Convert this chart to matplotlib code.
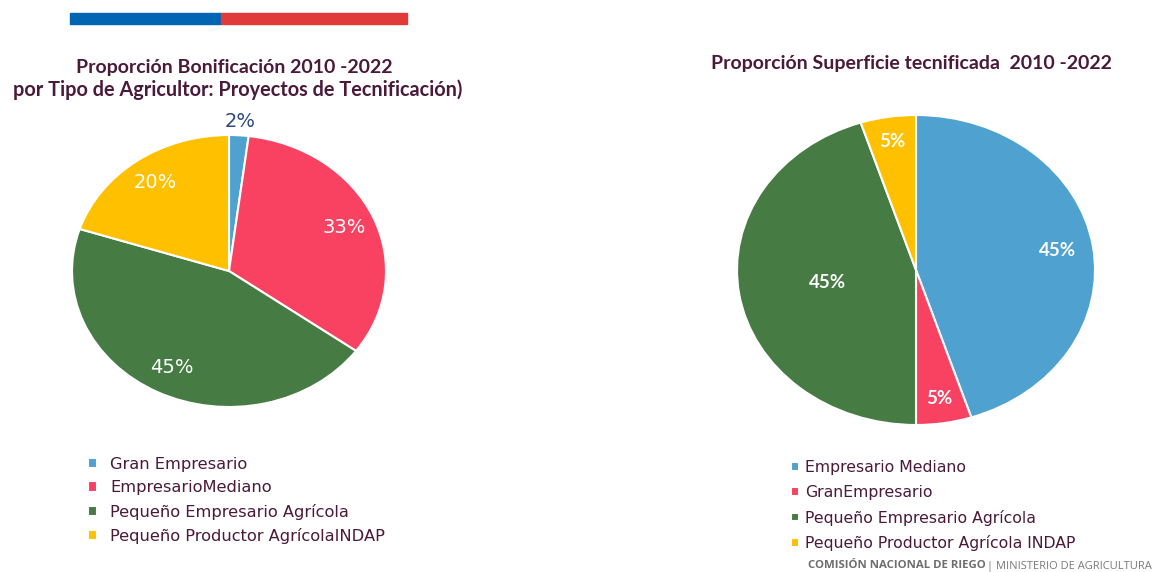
import matplotlib.pyplot as plt
from matplotlib.patches import Rectangle

# data
left_labels = ['Gran Empresario', 'EmpresarioMediano',
               'Pequeño Empresario Agrícola', 'Pequeño Productor AgrícolaINDAP']
left_values = [2, 33, 45, 20]
right_labels = ['Empresario Mediano', 'GranEmpresario',
                'Pequeño Empresario Agrícola', 'Pequeño Productor Agrícola INDAP']
right_values = [45, 5, 45, 5]

left_colors = ['#4FA1D0', '#F94161', '#467C44', '#FFC000']
right_colors = ['#4FA1D0', '#F94161', '#467C44', '#FFC000']

W, H = 1156, 572
title_color = '#4A1A3A'
fig = plt.figure(figsize=(W / 100, H / 100), dpi=100)
fig.patch.set_facecolor('white')


def px_axes(cx, cy, rx, ry):
    return fig.add_axes([(cx - rx) / W, (H - cy - ry) / H, 2 * rx / W, 2 * ry / H])


# top bar
fig.patches.append(Rectangle((70 / W, 1 - 24 / H), 151 / W, 11 / H,
                             transform=fig.transFigure, color='#0066B3'))
fig.patches.append(Rectangle((221 / W, 1 - 24 / H), 186 / W, 11 / H,
                             transform=fig.transFigure, color='#E03A3A'))

# left pie
ax1 = px_axes(229, 271, 157, 136)
w1, t1, a1 = ax1.pie(left_values, colors=left_colors, startangle=90, counterclock=False,
                     autopct='%1.0f%%', pctdistance=0.8,
                     wedgeprops=dict(edgecolor='white', linewidth=1.5),
                     textprops=dict(color='white', fontsize=14, family='DejaVu Sans'))
ax1.set_aspect('auto')
ax1.set_xlim(-1, 1)
ax1.set_ylim(-1, 1)
x, y = a1[0].get_position()
a1[0].set_position((x * 1.1 / 0.8, y * 1.1 / 0.8))
a1[0].set_color('#2E4A7A')

fig.text(234 / W, 1 - 68 / H, 'Proporción Bonificación 2010 -2022', ha='center', va='center',
         fontsize=14, fontweight='bold', color=title_color, family='Lato')
fig.text(238 / W, 1 - 90 / H, 'por Tipo de Agricultor: Proyectos de Tecnificación)', ha='center',
         va='center', fontsize=14.3, fontweight='bold', color=title_color, family='Lato')

leg1 = fig.legend(w1, left_labels, loc='upper left', bbox_to_anchor=(73 / W, 1 - 442 / H),
                  frameon=False, handlelength=0.6, handleheight=0.6, handletextpad=0.8,
                  labelspacing=0.52, prop=dict(family='DejaVu Sans', size=11.7))
for t in leg1.get_texts():
    t.set_color(title_color)

# right pie
ax2 = px_axes(916, 270, 179, 155)
w2, t2, a2 = ax2.pie(right_values, colors=right_colors, startangle=90, counterclock=False,
                     autopct='%1.0f%%', pctdistance=0.84,
                     wedgeprops=dict(edgecolor='white', linewidth=1.5),
                     textprops=dict(color='white', fontsize=13.5, fontweight='bold',
                                    family='Lato'))
ax2.set_aspect('auto')
ax2.set_xlim(-1, 1)
ax2.set_ylim(-1, 1)
x, y = a2[0].get_position()
a2[0].set_position((x * 0.8 / 0.84, y * 0.8 / 0.84))
x, y = a2[2].get_position()
a2[2].set_position((x * 0.5 / 0.84, y * 0.5 / 0.84))

fig.text(911 / W, 1 - 64 / H, 'Proporción Superficie tecnificada  2010 -2022', ha='center',
         va='center', fontsize=14, fontweight='bold', color=title_color, family='Lato')

leg2 = fig.legend(w2, right_labels, loc='upper left', bbox_to_anchor=(777 / W, 1 - 446 / H),
                  frameon=False, handlelength=0.5, handleheight=0.5, handletextpad=0.4,
                  labelspacing=0.62, prop=dict(family='DejaVu Sans', size=11.3))
for t in leg2.get_texts():
    t.set_color(title_color)

# footer
fig.text(808 / W, 1 - 566 / H, 'COMISIÓN NACIONAL DE RIEGO', ha='left', va='center',
         fontsize=8.2, fontweight='bold', color='#6E6E6E', family='Open Sans')
fig.text(987 / W, 1 - 566 / H, '| MINISTERIO DE AGRICULTURA', ha='left', va='center',
         fontsize=8, color='#7A7A7A', family='Open Sans')

fig.savefig('out.png', dpi=100)
